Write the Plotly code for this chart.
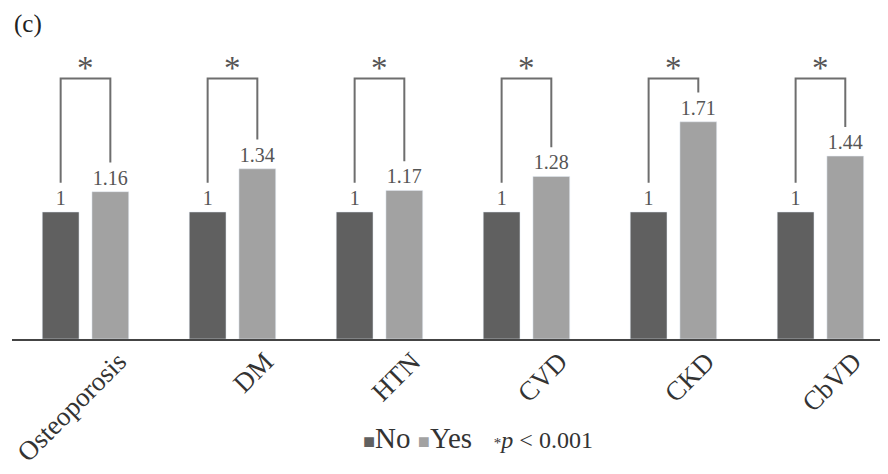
import plotly.graph_objects as go

categories = ["Osteoporosis", "DM", "HTN", "CVD", "CKD", "CbVD"]
no_values = [1, 1, 1, 1, 1, 1]
yes_values = [1.16, 1.34, 1.17, 1.28, 1.71, 1.44]
significant = [True, True, True, True, True, True]

NO_COLOR = "#606060"
YES_COLOR = "#a2a2a2"
SERIF = "Liberation Serif, Times New Roman, serif"
BARGAP = 0.324

fig = go.Figure()
fig.add_trace(go.Bar(
    x=categories, y=no_values, name="No", marker_color=NO_COLOR,
    text=[f"{v:g}" for v in no_values], textposition="outside",
    textfont=dict(family=SERIF, size=20, color="#555555"), cliponaxis=False,
))
fig.add_trace(go.Bar(
    x=categories, y=yes_values, name="Yes", marker_color=YES_COLOR,
    text=[f"{v:g}" for v in yes_values], textposition="outside",
    textfont=dict(family=SERIF, size=20, color="#555555"), cliponaxis=False,
))

# significance brackets
off = (1 - BARGAP) / 4
top = 2.05
shapes = []
annotations = []
for i, (n, y, s) in enumerate(zip(no_values, yes_values, significant)):
    if not s:
        continue
    xl, xr = i - off, i + off
    shapes.append(dict(
        type="path", xref="x", yref="y",
        path=f"M {xl},{n + 0.23} L {xl},{top} L {xr},{top} L {xr},{y + 0.23}",
        line=dict(color="#6e6e6e", width=2),
    ))
    annotations.append(dict(
        x=i, y=top, xref="x", yref="y", text="*", showarrow=False,
        yanchor="bottom", yshift=-9, font=dict(family=SERIF, size=33, color="#555555"),
    ))

annotations.append(dict(
    x=0.0, y=1.0, xref="paper", yref="paper", text="(c)", showarrow=False,
    xanchor="left", yanchor="top",
    font=dict(family=SERIF, size=25, color="#222222"),
))

annotations.append(dict(
    x=0.395, y=-0.299, xref="paper", yref="paper", showarrow=False,
    xanchor="left", yanchor="middle",
    text=(f"<span style='color:{NO_COLOR};font-size:20px'>■</span>No "
          f"<span style='color:{YES_COLOR};font-size:20px'>■</span>Yes&nbsp;&nbsp; "
          "<span style='font-size:24px'><span style='font-size:15px'>*</span><i>p</i> &lt; 0.001</span>"),
    font=dict(family=SERIF, size=29, color="#333333"),
))

fig.update_layout(
    width=888, height=474,
    margin=dict(l=4, r=0, t=0, b=143),
    paper_bgcolor="white", plot_bgcolor="white",
    barmode="group", bargap=BARGAP, bargroupgap=0.26,
    showlegend=False,
    shapes=shapes, annotations=annotations,
    xaxis=dict(
        range=[-0.5, 5.514], showline=True, linecolor="#444444", linewidth=2,
        ticks="", tickangle=-45, ticklabelshift=33, ticklabelstandoff=-6,
        tickfont=dict(family=SERIF, size=27, color="#333333"),
        showgrid=False, automargin=False,
    ),
    yaxis=dict(range=[0, 2.606], visible=False, showgrid=False),
)

fig.write_html("out.html")
